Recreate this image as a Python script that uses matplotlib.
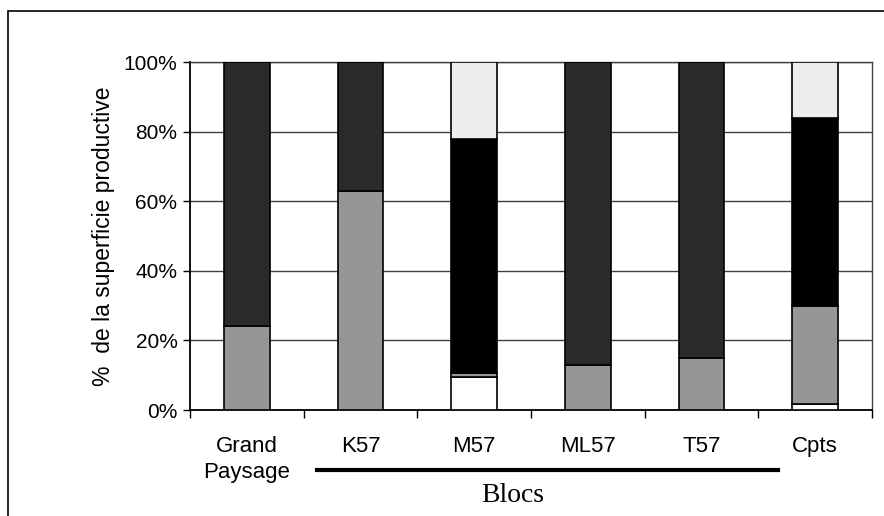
import matplotlib.pyplot as plt
from matplotlib.patches import Rectangle
from matplotlib.lines import Line2D
import numpy as np

categories = ["Grand\nPaysage", "K57", "M57", "ML57", "T57", "Cpts"]
white = [0, 0, 9.5, 0, 0, 1.7]
gray = [24, 63, 1.1, 13, 15, 28.2]
black = [0, 0, 67.4, 0, 0, 54]
dark = [76, 37, 0, 87, 85, 0]
light = [0, 0, 22, 0, 0, 16.1]
yticks = [0, 20, 40, 60, 80, 100]

plt.rcParams['font.family'] = ['Liberation Sans', 'DejaVu Sans']

fig = plt.figure(figsize=(8.84, 5.16), dpi=100)
ax = fig.add_axes([190/884, 1-410/516, 682/884, 348/516])

x = np.arange(len(categories))
series = [(white, "white"), (gray, "#969696"), (black, "black"),
          (dark, "#2a2a2a"), (light, "#eeeeee")]
bottom = np.zeros(len(categories))
for vals, col in series:
    vals = np.array(vals, dtype=float)
    mask = vals > 0
    ax.bar(x[mask], vals[mask], 0.4, bottom=bottom[mask], color=col,
           edgecolor="black", linewidth=1.2, zorder=3)
    bottom += vals

ax.set_xlim(-0.5, len(categories) - 0.5)
ax.set_ylim(0, 100)
ax.set_yticks(yticks)
ax.set_yticklabels([f"{v}%" for v in yticks], fontsize=15)
ax.yaxis.grid(True, color="#404040", linewidth=1, zorder=0)

ax.set_xticks(x)
ax.set_xticklabels(categories, fontsize=16, linespacing=1.3)
ax.set_xticks(np.arange(len(categories) + 1) - 0.5, minor=True)
ax.tick_params(axis="x", which="major", length=0, pad=19)
ax.tick_params(axis="x", which="minor", length=6, direction="out", width=1)
ax.tick_params(axis="y", length=5, direction="out", width=1, pad=4)

for s in ["left", "bottom"]:
    ax.spines[s].set_linewidth(1.3)
for s in ["top", "right"]:
    ax.spines[s].set_color("#404040")
    ax.spines[s].set_linewidth(1)

ax.set_ylabel("%  de la superficie productive", fontsize=16.5, labelpad=6)

# group line and label
fig.add_artist(Line2D([317/884, 778/884], [1-470/516, 1-470/516],
                      color="black", linewidth=3))
fig.text(513/884, 1-496/516, "Blocs", ha="center", va="center",
         fontsize=20, family=["Liberation Serif", "DejaVu Serif"])

# outer frame
fig.add_artist(Rectangle((8/884, -0.05), 1.1, 1.05 - 11/516,
                         transform=fig.transFigure, fill=False,
                         edgecolor="black", linewidth=1.2))

fig.savefig("out.png", dpi=100)
